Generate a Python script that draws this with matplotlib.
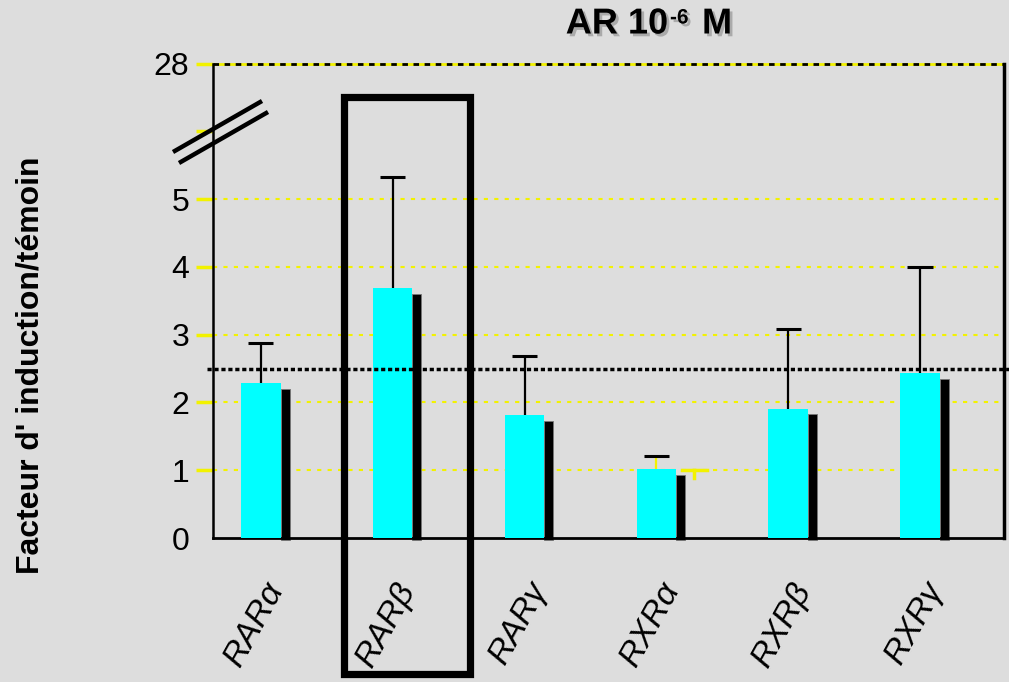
import matplotlib
matplotlib.use('Agg')
import matplotlib.pyplot as plt
import matplotlib.patheffects as pe
from matplotlib.lines import Line2D
from matplotlib.patches import Rectangle
import numpy as np

# data
categories = ['RARα', 'RARβ', 'RARγ', 'RXRα', 'RXRβ', 'RXRγ']
values = [2.29, 3.69, 1.81, 1.02, 1.91, 2.43]
err_up = [0.59, 1.64, 0.87, 0.19, 1.17, 1.57]
threshold = 2.5
ytick_pos = [0, 1, 2, 3, 4, 5, 6, 7]
ytick_lab = ['0', '1', '2', '3', '4', '5', '', '28']

plt.rcParams['font.family'] = ['Liberation Sans', 'DejaVu Sans']
bg = '#dddddd'
W, H = 1009, 682

fig = plt.figure(figsize=(W / 100, H / 100), dpi=100, facecolor=bg)
ax = fig.add_axes([213 / W, 1 - 538 / H, (1004 - 213) / W, (538 - 63.5) / H])
ax.set_facecolor(bg)

x = np.arange(len(categories))
bw = 0.30
off = -0.137
cx = x + off

# grid lines
for yv in [1, 2, 3, 4, 5]:
    ax.axhline(yv, color='#f2f200', lw=1.5, ls=(0, (2, 3)), zorder=1)
ax.axhline(7, color='#f2f200', lw=2, zorder=1, clip_on=False)
ax.axhline(7, color='black', lw=2, ls=(0, (2, 2)), zorder=2, clip_on=False)

# shadow strips then cyan bars
sh_w = 0.068
sh_dy = 0.088
for xi, v in zip(cx, values):
    ax.bar(xi + bw / 2, v - sh_dy + 0.03, width=sh_w, bottom=-0.03, align='edge',
           color='black', edgecolor='#777777', lw=0.6, zorder=2, clip_on=False)
ax.bar(cx, values, width=bw, color='#00ffff', edgecolor='#00ffff', lw=0, zorder=3)

# error bars (upper only)
for i, (xi, v, e) in enumerate(zip(cx, values, err_up)):
    col = '#f2f200' if categories[i] == 'RXRα' else 'black'
    ax.errorbar(xi, v, yerr=[[0], [e]], fmt='none', ecolor=col, elinewidth=1.6,
                capsize=0, zorder=4)
    ax.plot([xi - 0.095, xi + 0.095], [v + e, v + e], color='black', lw=2.2,
            zorder=4, solid_capstyle='butt')
# small yellow mark next to RXRα
ax.plot([3 + 0.06, 3 + 0.25], [1.0, 1.0], color='#f2f200', lw=2.5, zorder=4)
ax.plot([3 + 0.145, 3 + 0.145], [1.0, 0.88], color='#f2f200', lw=2.5, zorder=4)

# threshold line
ax.plot([-0.545, 5.55], [threshold, threshold], color='black', lw=2.5,
        ls=(0, (1.2, 0.8)), zorder=5, clip_on=False)

ax.set_xlim(-0.5, 5.5)
ax.set_ylim(0, 7)

ax.set_yticks(ytick_pos, labels=ytick_lab, fontsize=23)
ax.tick_params(axis='y', direction='out', length=12, width=2.5, color='#f2f200', pad=5)
ax.yaxis.get_major_ticks()[0].tick1line.set_visible(False)

ax.set_xticks(cx + 0.02, labels=categories, fontsize=24.5, style='italic', rotation=61,
              ha='right', rotation_mode='anchor')
ax.tick_params(axis='x', length=0, pad=28)

for s in ['left', 'bottom', 'right']:
    ax.spines[s].set_color('black')
ax.spines['left'].set_linewidth(1.8)
ax.spines['bottom'].set_linewidth(2)
ax.spines['right'].set_linewidth(2.5)
ax.spines['top'].set_visible(False)

# axis break marks
for (x0, y0, x1, y1) in [(173, 152, 262, 101), (179, 163, 268, 112)]:
    fig.add_artist(Line2D([x0 / W, x1 / W], [1 - y0 / H, 1 - y1 / H], color='black',
                          lw=3.2, solid_capstyle='butt'))

# highlight box around RARβ
fig.add_artist(Rectangle((343.5 / W, 1 - 673.5 / H), (469.5 - 343.5) / W,
                         (673.5 - 96.5) / H, fill=False, edgecolor='black', lw=5.2))

# title with shadow
shadow = [pe.SimplePatchShadow(offset=(2, -2), shadow_rgbFace='#888888', alpha=0.6),
          pe.Normal()]
fig.text(668 / W, 1 - 24 / H, 'AR 10', ha='right', va='center', fontsize=26,
         fontweight='bold', path_effects=shadow)
fig.text(670 / W, 1 - 18 / H, '-6', ha='left', va='center', fontsize=15,
         fontweight='bold', path_effects=shadow)
fig.text(702 / W, 1 - 24 / H, 'M', ha='left', va='center', fontsize=26,
         fontweight='bold', path_effects=shadow)

fig.text(31 / W, 1 - 365 / H, "Facteur d' induction/témoin", rotation=90,
         ha='center', va='center', fontsize=23, fontweight='bold')

fig.savefig('out.png', dpi=100, facecolor=bg)
